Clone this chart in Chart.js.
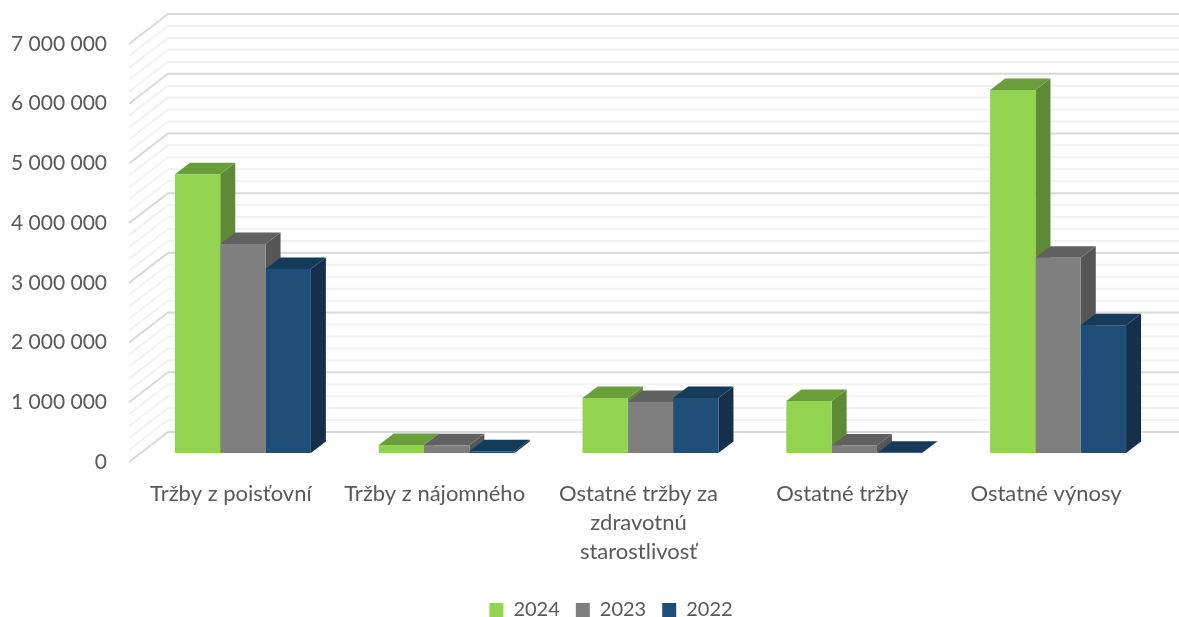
<!DOCTYPE html>
<html lang="sk">
<head>
<meta charset="utf-8">
<title>Výnosy</title>
<script src="https://cdn.jsdelivr.net/npm/chart.js@4"></script>
<style>
    html, body { margin: 0; padding: 0; background: #fff; overflow: hidden; }
    canvas { display: block; }
</style>
</head>
<body>
<canvas id="chartVynosy" width="1179" height="617"></canvas>
<script>
const kategorie = [
    'Tržby z poisťovní',
    'Tržby z nájomného',
    ['Ostatné tržby za', 'zdravotnú', 'starostlivosť'],
    'Ostatné tržby',
    'Ostatné výnosy'
];
const rok2024 = [4670000, 134000, 920000, 870000, 6080000];
const rok2023 = [3500000, 130000, 855000, 125000, 3270000];
const rok2022 = [3080000, 30000, 920000, 5000, 2140000];
const hlavneHodnoty = [0, 1000000, 2000000, 3000000, 4000000, 5000000, 6000000, 7000000];
const vedlajsieHodnoty = [200000, 400000, 600000, 800000];

const farbyPredok = ['#92d350', '#7f7f7f', '#1f4e79'];
const farbyVrch = ['#6a9e3a', '#616161', '#163a5a'];
const farbyBok = ['#5f8a35', '#565656', '#14304d'];

// hĺbka 3D pohľadu v pixeloch
const hlbkaX = 15;
const hlbkaY = 11.5;

function ciara(ctx, body, farba, hrubka) {
    ctx.beginPath();
    ctx.moveTo(body[0][0], body[0][1]);
    for (let i = 1; i < body.length; i++) ctx.lineTo(body[i][0], body[i][1]);
    ctx.strokeStyle = farba;
    ctx.lineWidth = hrubka;
    ctx.stroke();
}

function plocha(ctx, body, farba) {
    ctx.beginPath();
    ctx.moveTo(body[0][0], body[0][1]);
    for (let i = 1; i < body.length; i++) ctx.lineTo(body[i][0], body[i][1]);
    ctx.closePath();
    ctx.fillStyle = farba;
    ctx.fill();
}

// zadná stena a bočná stena s mriežkou, potom boky a vrchy stĺpcov
const stlpce3d = {
    id: 'stlpce3d',
    afterLayout(chart) {
        // legenda v origináli nie je v strede plátna
        chart.legend.left += 31;
        chart.legend.right += 31;
    },
    beforeDatasetsDraw(chart) {
        const ctx = chart.ctx;
        const os = chart.scales.y;
        const vlavo = chart.chartArea.left;
        ctx.save();

        function stena(hodnota, farba, hrubka) {
            const y = os.getPixelForValue(hodnota);
            ciara(ctx, [[vlavo - 12, y + 9], [vlavo + 27, y - 21], [chart.width, y - 21]], farba, hrubka);
        }
        hlavneHodnoty.slice(0, -1).forEach(h => {
            vedlajsieHodnoty.forEach(v => stena(h + v, '#f2f2f2', 2));
        });
        hlavneHodnoty.forEach(h => stena(h, '#d9d9d9', 2));

        chart.data.datasets.forEach((sada, s) => {
            chart.getDatasetMeta(s).data.forEach(bar => {
                const p = bar.getProps(['x', 'y', 'base', 'width'], true);
                const lavo = p.x - p.width / 2;
                const pravo = p.x + p.width / 2;
                plocha(ctx, [[pravo, p.y], [pravo + hlbkaX, p.y - hlbkaY], [pravo + hlbkaX, p.base - hlbkaY], [pravo, p.base]], farbyBok[s]);
                plocha(ctx, [[lavo, p.y], [lavo + hlbkaX, p.y - hlbkaY], [pravo + hlbkaX, p.y - hlbkaY], [pravo, p.y]], farbyVrch[s]);
            });
        });
        ctx.restore();
    }
};

new Chart(document.getElementById('chartVynosy').getContext('2d'), {
    type: 'bar',
    data: {
        labels: kategorie,
        datasets: [
            { label: '2024', data: rok2024, backgroundColor: farbyPredok[0] },
            { label: '2023', data: rok2023, backgroundColor: farbyPredok[1] },
            { label: '2022', data: rok2022, backgroundColor: farbyPredok[2] }
        ]
    },
    options: {
        responsive: false,
        animation: false,
        categoryPercentage: 0.667,
        barPercentage: 1,
        layout: { padding: { top: 35, right: 19, left: 0, bottom: -13 } },
        scales: {
            x: {
                grid: { display: false, drawTicks: false },
                border: { display: false },
                afterFit(os) { os.height = 131; },
                ticks: {
                    color: '#595959',
                    font: { family: 'Lato', size: 22, lineHeight: 1.33 },
                    padding: 26,
                    labelOffset: -12,
                    maxRotation: 0,
                    autoSkip: false
                }
            },
            y: {
                min: 0,
                max: 7000000,
                // tickLength namiesto ticks.padding, padding by posunul hornú hranu grafu
                grid: { display: false, drawTicks: true, tickLength: 34 },
                border: { display: false },
                afterFit(os) { os.width = 141; },
                afterBuildTicks(os) { os.ticks = hlavneHodnoty.map(h => ({ value: h })); },
                ticks: {
                    color: '#595959',
                    font: { family: 'Lato', size: 21 },
                    padding: 0,
                    labelOffset: 9,
                    callback: h => String(h).replace(/\B(?=(\d{3})+$)/g, ' ')
                }
            }
        },
        plugins: {
            title: { display: false },
            tooltip: { enabled: false },
            legend: {
                position: 'bottom',
                labels: {
                    color: '#595959',
                    font: { family: 'Lato', size: 20 },
                    boxWidth: 14,
                    boxHeight: 14,
                    padding: 16
                }
            }
        }
    },
    plugins: [stlpce3d]
});
</script>
</body>
</html>
